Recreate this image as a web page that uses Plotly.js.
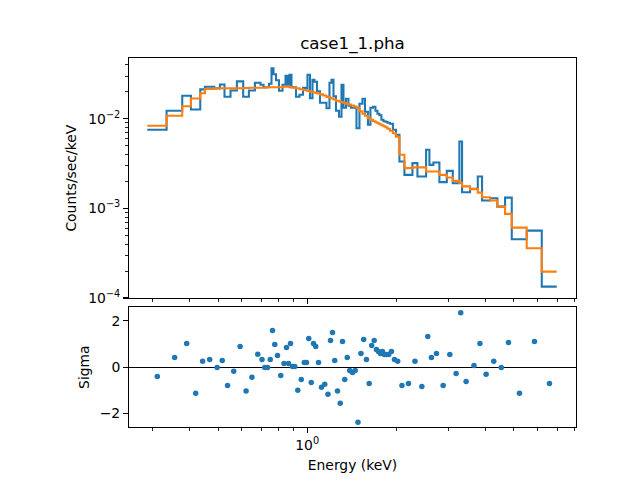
<!DOCTYPE html>
<html>
<head>
<meta charset="utf-8">
<script src="https://cdn.plot.ly/plotly-3.0.1.min.js"></script>
<style>html,body{margin:0;padding:0;background:#fff}#plot{width:640px;height:480px}</style>
</head>
<body>
<div id="plot"></div>
<script>
// Bin edges (keV), 90 edges -> 89 bins
const binEdges = [0.2880, 0.3347, 0.3781, 0.4046, 0.4350, 0.4512, 0.4850, 0.5070, 0.5254, 0.5505,
  0.5786, 0.6077, 0.6353, 0.6657, 0.6954, 0.7119, 0.7258, 0.7429, 0.7575, 0.7693,
  0.7845, 0.8030, 0.8253, 0.8446, 0.8579, 0.8713, 0.8850, 0.8990, 0.9166, 0.9418,
  0.9679, 0.9869, 1.0023, 1.0220, 1.0421, 1.0585, 1.0792, 1.1047, 1.1309, 1.1620,
  1.1895, 1.2082, 1.2273, 1.2513, 1.2808, 1.3060, 1.3265, 1.3527, 1.3791, 1.4060,
  1.4392, 1.4676, 1.5022, 1.5374, 1.5678, 1.6046, 1.6363, 1.6685, 1.7011, 1.7280,
  1.7552, 1.7822, 1.8103, 1.8384, 1.8674, 1.9039, 1.9491, 1.9953, 2.0503, 2.1318,
  2.2690, 2.3590, 2.5235, 2.5894, 2.6712, 2.7990, 2.9648, 3.1060, 3.2696, 3.3389,
  3.5531, 3.7732, 3.9013, 4.1515, 4.3946, 4.6666, 4.9170, 5.5234, 6.2094, 6.9775];

// Observed rate (counts/sec/keV)
const dataRate = [0.00754, 0.01228, 0.01807, 0.01271, 0.02126, 0.02279, 0.02181, 0.02417, 0.01761, 0.02071,
  0.02611, 0.01761, 0.02071,
  0.02525, 0.02399, 0.02249, 0.02249, 0.02461, 0.03666, 0.03142, 0.02693, 0.02055, 0.02399,
  0.03023, 0.02399, 0.03102, 0.02249, 0.02249, 0.01761, 0.01854, 0.02221, 0.02192, 0.03102,
  0.01695, 0.02728, 0.02591, 0.02029, 0.01510, 0.01510, 0.01310, 0.02525, 0.02728, 0.01784,
  0.01228, 0.01053, 0.02399, 0.01327, 0.01673, 0.01397, 0.01327, 0.01327, 0.00783, 0.01471,
  0.01673, 0.01197, 0.00857, 0.01327, 0.01362, 0.01228, 0.01137, 0.01094, 0.00975, 0.00938,
  0.00926, 0.00902, 0.00879, 0.00754, 0.00663,
  0.003333, 0.002367, 0.003199, 0.002266, 0.004503, 0.003062, 0.003249, 0.001962, 0.002624, 0.001912,
  0.005576, 0.001517, 0.001651, 0.002266, 0.001223, 0.001300, 0.001047, 0.001320, 0.000453, 0.000565,
  0.000134];

// Model rate (counts/sec/keV)
const modelRate = [0.00835, 0.01080, 0.01380, 0.01686, 0.01928, 0.02148, 0.02192, 0.02192, 0.02192, 0.02181,
  0.02192, 0.02209, 0.02221,
  0.02221, 0.02221, 0.02221, 0.02249, 0.02249, 0.02249, 0.02249, 0.02249, 0.02249, 0.02279,
  0.02279, 0.02279, 0.02249, 0.02237, 0.02221, 0.02192, 0.02136, 0.02098, 0.02077, 0.02045,
  0.02003, 0.01977, 0.01952, 0.01912, 0.01873, 0.01821, 0.01748, 0.01717, 0.01682, 0.01643,
  0.01589, 0.01557, 0.01529, 0.01501, 0.01471, 0.01445, 0.01408, 0.01372, 0.01327, 0.01213,
  0.01137, 0.01080, 0.01013, 0.00975, 0.00938, 0.00914, 0.00891, 0.00868, 0.00846, 0.00825,
  0.00804, 0.00773, 0.00734, 0.00689, 0.00629,
  0.003961, 0.002813, 0.002871, 0.002871, 0.002577, 0.002577, 0.002577, 0.002367, 0.002209, 0.002029,
  0.001927, 0.001761, 0.001639, 0.001501, 0.001334, 0.001223, 0.001047, 0.000868, 0.000610, 0.000359,
  0.000197];

// Residuals (sigma)
const sigmaResid = [-0.40, 0.42, 1.02, -1.13, 0.25, 0.33, -0.01, 0.29, -0.79, -0.18,
  0.89, -1.03, -0.44, 0.56, 0.33, -0.01, -0.01, 0.33, 1.58, 0.98,
  0.50, -0.36, 0.16, 0.85, 0.16, 1.02, 0.03, 0.03, -1.00, -0.53,
  0.20, 0.20, 1.23, -0.66, 1.02, 0.89, 0.20, -0.87, -0.74, -1.17,
  1.15, 1.49, 0.29, -1.03, -1.56, 1.11, -0.53, 0.42, -0.14, -0.23,
  -0.14, -2.38, 0.59, 1.19, 0.33, -0.70, 0.93, 1.15, 0.76, 0.68,
  0.59, 0.68, 0.55, 0.55, 0.55, 0.68, 0.33, 0.25, -0.79, -0.70,
  0.25, -0.83, 1.32, 0.42, 0.59, -0.79, 0.55, -0.27, 2.35, -0.62,
  0.07, 1.02, -0.31, 0.25, -0.01, 1.06, -1.13, 1.11, -0.70];

const yTickVals = [1e-4, 1e-3, 1e-2];
const yTickText = ['10<sup>−4</sup>', '10<sup>−3</sup>', '10<sup>−2</sup>'];
const xTickVals = [1];
const xTickText = ['10<sup>0</sup>'];
const xMinorVals = [0.3, 0.4, 0.5, 0.6, 0.7, 0.8, 0.9, 2, 3, 4, 5, 6, 7, 8];
const yMinorVals = [2e-4,3e-4,4e-4,5e-4,6e-4,7e-4,8e-4,9e-4,2e-3,3e-3,4e-3,5e-3,6e-3,7e-3,8e-3,9e-3,2e-2,3e-2,4e-2];
const residTickVals = [-2, 0, 2];
const residTickText = ['−2', '0', '2'];

// Build step arrays
const stepX = binEdges.slice();
const stepData = dataRate.concat([dataRate[dataRate.length - 1]]);
const stepModel = modelRate.concat([modelRate[modelRate.length - 1]]);
const centers = dataRate.map((_, i) => (binEdges[i] + binEdges[i + 1]) / 2);

const FONT = 'DejaVu Sans, sans-serif';
const fs = 13.9;

const traces = [
  {x: stepX, y: stepData, type: 'scatter', mode: 'lines', line: {shape: 'hv', color: '#1f77b4', width: 2.08}, xaxis: 'x', yaxis: 'y', hoverinfo: 'skip'},
  {x: stepX, y: stepModel, type: 'scatter', mode: 'lines', line: {shape: 'hv', color: '#ff7f0e', width: 2.08}, xaxis: 'x', yaxis: 'y', hoverinfo: 'skip'},
  {x: centers, y: sigmaResid, type: 'scatter', mode: 'markers', marker: {color: '#1f77b4', size: 5.5}, xaxis: 'x2', yaxis: 'y2', hoverinfo: 'skip'}
];

const axBase = {
  showline: true, linecolor: 'black', linewidth: 1.1, mirror: true,
  ticks: 'outside', ticklen: 4.9, tickwidth: 1.1, tickcolor: 'black',
  showgrid: false, zeroline: false,
  tickfont: {family: FONT, size: fs, color: 'black'}
};
const xRange = [-0.6024, 0.9088];

const layout = {
  width: 640, height: 480,
  margin: {l: 129, r: 64, t: 58, b: 53},
  paper_bgcolor: 'white', plot_bgcolor: 'white',
  showlegend: false,
  font: {family: FONT, size: fs, color: 'black'},
  title: {text: 'case1_1.pha', font: {family: FONT, size: 16.7, color: 'black'}, x: 0.5, xref: 'paper', xanchor: 'center', y: 1 - 43/480, yref: 'container', yanchor: 'middle'},
  xaxis: Object.assign({}, axBase, {
    type: 'log', range: xRange, anchor: 'y', domain: [0, 1],
    tickmode: 'array', tickvals: xTickVals, ticktext: xTickText, showticklabels: false,
    minor: {ticks: 'outside', ticklen: 2.8, tickwidth: 0.85, tickcolor: 'black', tickmode: 'array', tickvals: xMinorVals, showgrid: false}
  }),
  yaxis: Object.assign({}, axBase, {
    type: 'log', range: [-4.003, -1.322], anchor: 'x', domain: [0.3488, 1],
    tickmode: 'array', tickvals: yTickVals, ticktext: yTickText,
    minor: {ticks: 'outside', ticklen: 2.8, tickwidth: 0.85, tickcolor: 'black', tickmode: 'array', tickvals: yMinorVals, showgrid: false},
    title: {text: 'Counts/sec/keV', font: {family: FONT, size: fs, color: 'black'}, standoff: 8}
  }),
  xaxis2: Object.assign({}, axBase, {
    type: 'log', range: xRange, anchor: 'y2', domain: [0, 1],
    tickmode: 'array', tickvals: xTickVals, ticktext: xTickText,
    minor: {ticks: 'outside', ticklen: 2.8, tickwidth: 0.85, tickcolor: 'black', tickmode: 'array', tickvals: xMinorVals, showgrid: false},
    title: {text: 'Energy (keV)', font: {family: FONT, size: fs, color: 'black'}, standoff: 8}
  }),
  yaxis2: Object.assign({}, axBase, {
    range: [-2.58, 2.58], anchor: 'x2', domain: [0, 0.3244],
    tickmode: 'array', tickvals: residTickVals, ticktext: residTickText,
    zeroline: true, zerolinecolor: 'black', zerolinewidth: 1.1,
    title: {text: 'Sigma', font: {family: FONT, size: fs, color: 'black'}, standoff: 6}
  })
};

Plotly.newPlot('plot', traces, layout, {staticPlot: true, displayModeBar: false});
</script>
</body>
</html>
